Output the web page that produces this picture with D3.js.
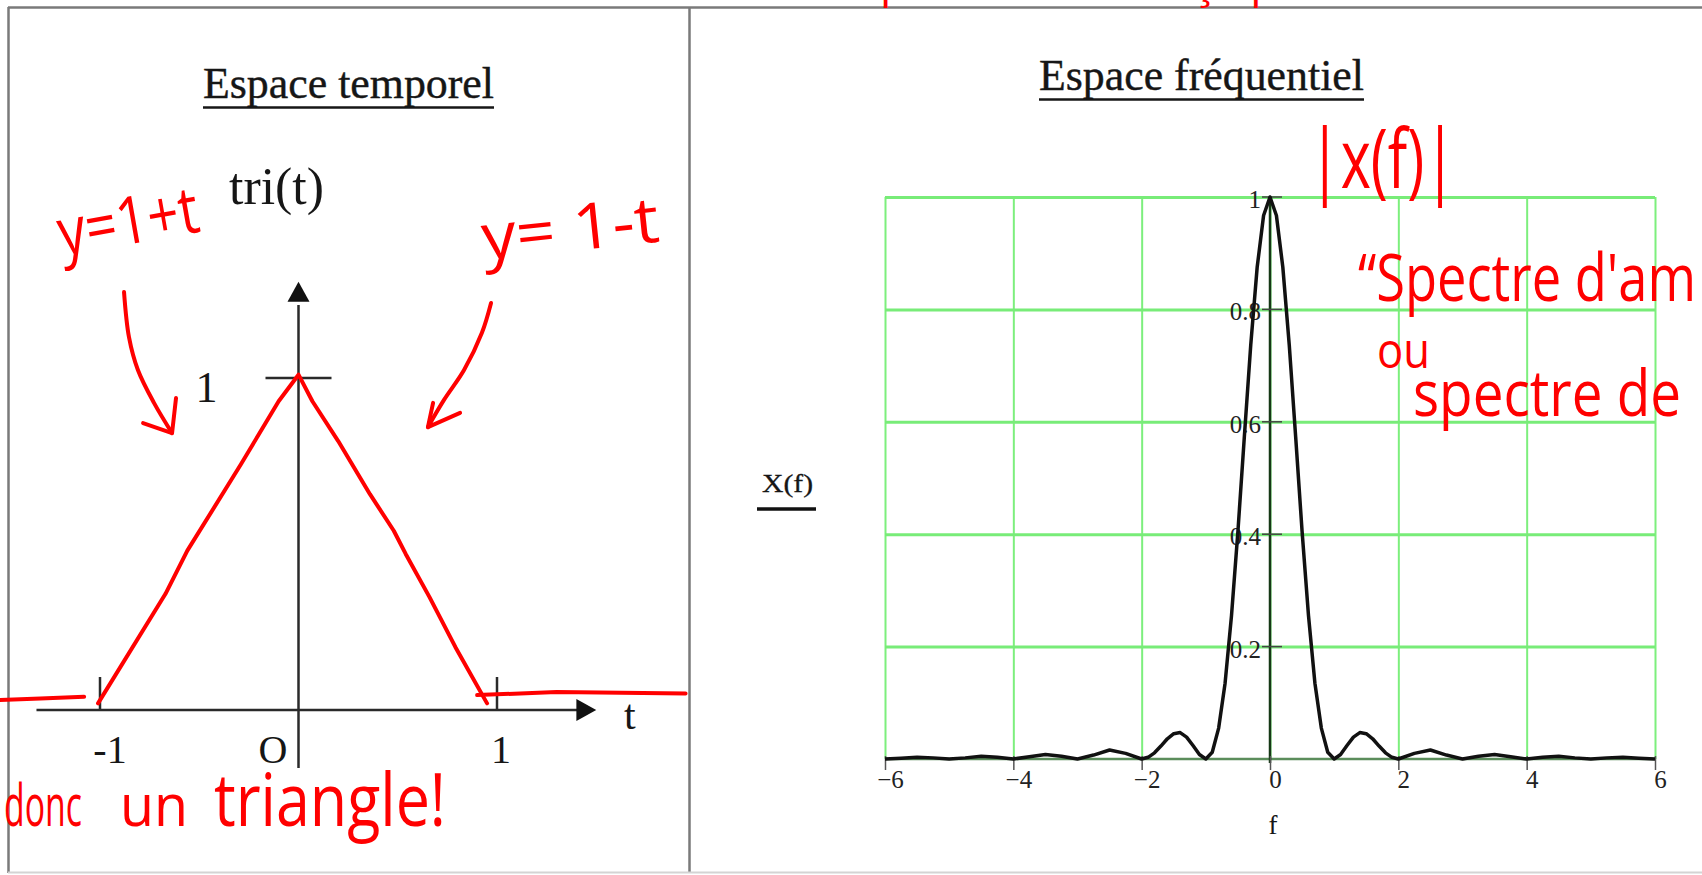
<!DOCTYPE html>
<html>
<head>
<meta charset="utf-8">
<script src="https://cdn.jsdelivr.net/npm/d3@7"></script>
<style>
  body { margin: 0; background: #fff; overflow: hidden; }
  svg { display: block; }
</style>
</head>
<body>
<svg id="chart" width="1702" height="875"></svg>
<script>
// temporal panel : tri(t), hand drawn in red over the printed axes
const tTicks = [-1, 1];
const tLabels = ["-1", "O", "1"];
const triT = [-1.01, -0.67, -0.56, -0.29, -0.1, 0, 0.07, 0.2, 0.36, 0.48, 0.54, 0.66, 0.79, 0.95];
const triY = [0.02, 0.35, 0.48, 0.74, 0.93, 1.01, 0.93, 0.81, 0.65, 0.54, 0.47, 0.34, 0.19, 0.02];
const flatLeftT = [-1.52, -1.3, -1.08];
const flatLeftY = [0.03, 0.035, 0.04];
const flatRightT = [0.9, 1.3, 1.95];
const flatRightY = [0.045, 0.054, 0.05];
const arrowLeft = [[-0.879, 1.259], [-0.854, 1.123], [-0.809, 1.024], [-0.728, 0.925], [-0.637, 0.834]];
const arrowLeftHead = [[-0.783, 0.864], [-0.637, 0.834], [-0.617, 0.94]];
const arrowRight = [[0.97, 1.226], [0.924, 1.136], [0.834, 1.024], [0.733, 0.934], [0.652, 0.852]];
const arrowRightHead = [[0.814, 0.895], [0.652, 0.852], [0.678, 0.925]];

// frequency panel : X(f)
const freq = [-6, -5.75, -5.5, -5.25, -5, -4.75, -4.5, -4.25, -4, -3.75, -3.5, -3.25, -3, -2.75, -2.5, -2.25,
  -2, -1.9, -1.8, -1.7, -1.6, -1.5, -1.4, -1.3, -1.2, -1.1, -1, -0.9, -0.8, -0.7, -0.6, -0.5, -0.4, -0.3, -0.2, -0.1,
  0, 0.1, 0.2, 0.3, 0.4, 0.5, 0.6, 0.7, 0.8, 0.9, 1, 1.1, 1.2, 1.3, 1.4, 1.5, 1.6, 1.7, 1.8, 1.9,
  2, 2.25, 2.5, 2.75, 3, 3.25, 3.5, 3.75, 4, 4.25, 4.5, 4.75, 5, 5.25, 5.5, 5.75, 6];
const mag = [0, 0.0015, 0.003, 0.002, 0, 0.002, 0.005, 0.003, 0, 0.004, 0.008, 0.005, 0, 0.007, 0.016, 0.01,
  0, 0.003, 0.011, 0.023, 0.036, 0.045, 0.047, 0.039, 0.024, 0.008, 0, 0.012, 0.055, 0.135, 0.255, 0.405, 0.573, 0.737, 0.875, 0.967,
  1, 0.967, 0.875, 0.737, 0.573, 0.405, 0.255, 0.135, 0.055, 0.012, 0, 0.008, 0.024, 0.039, 0.047, 0.045, 0.036, 0.023, 0.011, 0.003,
  0, 0.01, 0.016, 0.007, 0, 0.005, 0.008, 0.004, 0, 0.003, 0.005, 0.002, 0, 0.002, 0.003, 0.0015, 0];
const freqTicks = [-6, -4, -2, 0, 2, 4, 6];
const magTicks = [0.2, 0.4, 0.6, 0.8, 1];

const serif = "'Liberation Serif', 'Times New Roman', serif";
const hand = "'Open Sans', 'Noto Sans', sans-serif";
const ink = "#161616";
const red = "#ff0000";

const svg = d3.select("#chart");
svg.append("rect").attr("width", 1702).attr("height", 875).attr("fill", "#fff");

// page frame
const frame = svg.append("g").attr("stroke", "#7a7a7a").attr("stroke-width", 2.5);
frame.append("line").attr("x1", 8).attr("y1", 7.5).attr("x2", 1702).attr("y2", 7.5);
frame.append("line").attr("x1", 8.5).attr("y1", 7).attr("x2", 8.5).attr("y2", 873);
frame.append("line").attr("x1", 689.5).attr("y1", 7).attr("x2", 689.5).attr("y2", 873);
svg.append("line").attr("x1", 8).attr("y1", 872.5).attr("x2", 1702).attr("y2", 872.5)
  .attr("stroke", "#d4d4d4").attr("stroke-width", 2);

function title(x, y, w, str) {
  svg.append("text")
    .attr("x", x).attr("y", y)
    .attr("font-family", serif).attr("font-size", 44).attr("fill", ink)
    .attr("stroke", ink).attr("stroke-width", 0.4)
    .attr("textLength", w).attr("lengthAdjust", "spacingAndGlyphs")
    .text(str);
  svg.append("line")
    .attr("x1", x).attr("x2", x + w).attr("y1", y + 9.5).attr("y2", y + 9.5)
    .attr("stroke", ink).attr("stroke-width", 2.5);
}

// handwritten note, squeezed so that the first fitChars characters span fitW pixels
function note(str, x, y, size, fitChars, fitW, rot) {
  let t = svg.append("text")
    .attr("font-family", hand).attr("font-size", size).attr("fill", red)
    .text(str);
  let w = t.node().getSubStringLength(0, fitChars);
  t.attr("transform", `translate(${x},${y}) rotate(${rot}) scale(${fitW / w},1)`);
  return t;
}

// ---------- temporal space ----------
title(203, 98, 291, "Espace temporel");

const xT = d3.scaleLinear().domain([-1, 1]).range([100, 497]);
const yT = d3.scaleLinear().domain([0, 1]).range([710, 378]);

const left = svg.append("g").attr("stroke", "#2a2a2a").attr("stroke-width", 2.5);
left.append("line").attr("x1", xT(-1.32)).attr("x2", xT(1.42)).attr("y1", yT(0)).attr("y2", yT(0));
left.append("line").attr("x1", xT(0)).attr("x2", xT(0)).attr("y1", yT(-0.175)).attr("y2", yT(1.22));
left.append("line").attr("x1", xT(0) - 33).attr("x2", xT(0) + 33).attr("y1", yT(1)).attr("y2", yT(1));
left.selectAll(".tk").data(tTicks).join("line")
  .attr("x1", d => xT(d)).attr("x2", d => xT(d))
  .attr("y1", yT(0)).attr("y2", yT(0) - 33);

svg.append("path")
  .attr("d", `M${xT(1.5)},${yT(0)} L${xT(1.4)},${yT(0) - 11} L${xT(1.4)},${yT(0) + 11} Z`)
  .attr("fill", "#111");
svg.append("path")
  .attr("d", `M${xT(0)},${yT(1.29)} L${xT(0) - 11},${yT(1.23)} L${xT(0) + 11},${yT(1.23)} Z`)
  .attr("fill", "#111");

const lblT = svg.append("g").attr("font-family", serif).attr("font-size", 40).attr("fill", ink);
lblT.append("text").attr("x", xT(-1) + 10).attr("y", yT(0) + 53).attr("text-anchor", "middle").text(tLabels[0]);
lblT.append("text").attr("x", xT(0) - 11).attr("y", yT(0) + 53).attr("text-anchor", "end").text(tLabels[1]);
lblT.append("text").attr("x", xT(1) + 4).attr("y", yT(0) + 53).attr("text-anchor", "middle").text(tLabels[2]);
lblT.append("text").attr("x", 624).attr("y", 729).attr("font-size", 42).text("t");
lblT.append("text").attr("x", xT(0) - 92).attr("y", yT(1) + 24).attr("text-anchor", "middle").attr("font-size", 44).text("1");
lblT.append("text").attr("x", 229).attr("y", 204).attr("font-size", 52)
  .attr("textLength", 95).attr("lengthAdjust", "spacingAndGlyphs").text("tri(t)");

const redLine = d3.line().x(d => xT(d[0])).y(d => yT(d[1]));
const penPaths = [
  d3.zip(triT, triY),
  d3.zip(flatLeftT, flatLeftY),
  d3.zip(flatRightT, flatRightY),
  arrowLeftHead,
  arrowRightHead
];
svg.append("g").selectAll("path").data(penPaths).join("path")
  .attr("d", redLine)
  .attr("fill", "none").attr("stroke", red).attr("stroke-width", 4)
  .attr("stroke-linecap", "round").attr("stroke-linejoin", "round");

const arrowCurve = d3.line().x(d => xT(d[0])).y(d => yT(d[1])).curve(d3.curveCatmullRom);
svg.append("g").selectAll("path").data([arrowLeft, arrowRight]).join("path")
  .attr("d", arrowCurve)
  .attr("fill", "none").attr("stroke", red).attr("stroke-width", 4)
  .attr("stroke-linecap", "round");

note("y=1+t", 62, 256, 66, 5, 142, -10);
note("y= 1-t", 484, 260, 64, 6, 178, -6);
note("donc", 4, 826, 58, 4, 78, 0);
note("un", 120, 826, 58, 2, 68, 0);
note("triangle!", 214, 826, 74, 9, 232, 0);

// ---------- frequency space ----------
title(1039, 90, 325, "Espace fréquentiel");

const xF = d3.scaleLinear().domain([-6, 6]).range([885, 1655]);
const yF = d3.scaleLinear().domain([0, 1]).range([759, 197]);

const gridV = svg.append("g")
  .attr("transform", `translate(0,${yF(0)})`)
  .call(d3.axisBottom(xF).tickValues(freqTicks).tickSize(-(yF(0) - yF(1))).tickFormat(""));
gridV.select(".domain").remove();
gridV.selectAll("line").attr("stroke", "#7def7d").attr("stroke-width", 2);

const gridH = svg.append("g")
  .attr("transform", `translate(${xF(-6)},0)`)
  .call(d3.axisLeft(yF).tickValues(magTicks).tickSize(-(xF(6) - xF(-6))).tickFormat(""));
gridH.select(".domain").remove();
gridH.selectAll("line").attr("stroke", "#78ec78").attr("stroke-width", 3);

svg.append("line")
  .attr("x1", xF(-6)).attr("x2", xF(6)).attr("y1", yF(0)).attr("y2", yF(0))
  .attr("stroke", "#5b8d5b").attr("stroke-width", 2.5);
svg.append("line")
  .attr("x1", xF(0)).attr("x2", xF(0)).attr("y1", yF(1)).attr("y2", yF(0) + 4)
  .attr("stroke", "#163816").attr("stroke-width", 2.5);

const axX = svg.append("g")
  .attr("transform", `translate(0,${yF(0) - 3})`)
  .call(d3.axisBottom(xF).tickValues(freqTicks).tickSize(14).tickPadding(0).tickFormat(d3.format("d")));
axX.select(".domain").remove();
axX.selectAll("line").attr("stroke", "#555").attr("stroke-width", 1.5);
axX.selectAll("text")
  .attr("font-family", serif).attr("font-size", 25).attr("fill", "#222")
  .attr("dx", 5);

const tickY = svg.append("g");
tickY.selectAll("line").data(magTicks).join("line")
  .attr("x1", xF(0) - 8).attr("x2", xF(0) + 12)
  .attr("y1", d => yF(d)).attr("y2", d => yF(d))
  .attr("stroke", "#444").attr("stroke-width", 1.5);
tickY.selectAll("text").data(magTicks).join("text")
  .attr("x", xF(0) - 9).attr("y", d => yF(d) + 11)
  .attr("text-anchor", "end")
  .attr("font-family", serif).attr("font-size", 25).attr("fill", "#222")
  .text(d => d3.format("")(d));

svg.append("path")
  .datum(d3.zip(freq, mag))
  .attr("d", d3.line().x(d => xF(d[0])).y(d => yF(d[1])))
  .attr("fill", "none").attr("stroke", "#111").attr("stroke-width", 3.5)
  .attr("stroke-linejoin", "round");

svg.append("text")
  .attr("x", xF(0) + 3).attr("y", 834).attr("text-anchor", "middle")
  .attr("font-family", serif).attr("font-size", 27).attr("fill", ink)
  .text("f");
svg.append("text")
  .attr("x", 762).attr("y", 492)
  .attr("font-family", serif).attr("font-size", 25).attr("fill", ink)
  .attr("stroke", ink).attr("stroke-width", 0.3)
  .attr("textLength", 51).attr("lengthAdjust", "spacingAndGlyphs")
  .text("X(f)");
svg.append("line")
  .attr("x1", 757).attr("x2", 816).attr("y1", 509).attr("y2", 509)
  .attr("stroke", "#111").attr("stroke-width", 3.5);

note("|x(f)|", 1309, 188, 82, 6, 147, 0);
note("“Spectre d'am", 1358, 301, 66, 13, 338, 0);
note("ou", 1377, 368, 50, 2, 53, 0);
note("spectre de", 1413, 416, 64, 10, 268, 0);
note("puis on trouve ça par le calcul", 880, -2, 40, 30, 607, 0);
</script>
</body>
</html>
